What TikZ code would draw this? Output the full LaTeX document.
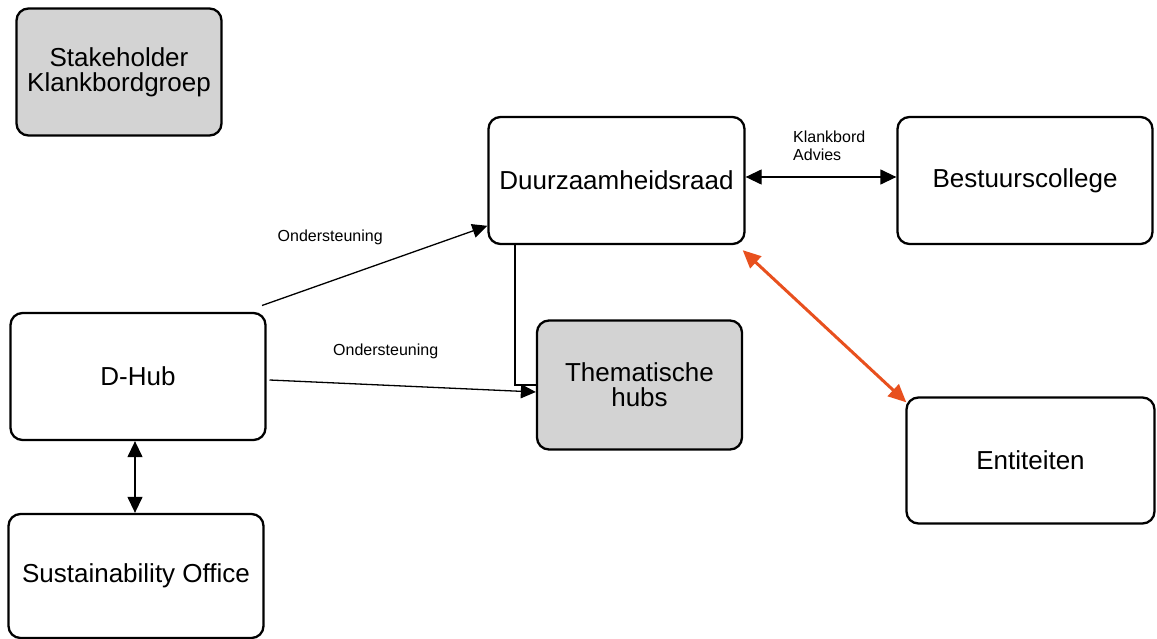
\documentclass[tikz,border=0pt]{standalone}
\usepackage{fontspec}
\setmainfont{Liberation Sans}
\usetikzlibrary{arrows.meta,calc}
\definecolor{boxgray}{HTML}{D3D3D3}
\definecolor{orangered}{HTML}{E8501E}
\begin{document}
\begin{tikzpicture}[x=1pt,y=-1pt,
  box/.style={draw=black, line width=2.3pt, rounded corners=12pt, fill=white,
    align=center, inner sep=0pt, font=\fontsize{26}{25}\selectfont},
  graybox/.style={box, fill=boxgray},
  conn/.style={line width=1.3pt},
  tipA/.style={-{Triangle[length=15pt,width=14pt]}},
  tipAA/.style={{Triangle[length=16pt,width=15pt]}-{Triangle[length=16pt,width=15pt]}},
  orangearrow/.style={draw=orangered, line width=3pt,
    {Triangle[length=18pt,width=16pt]}-{Triangle[length=18pt,width=16pt]}},
  lbl/.style={font=\fontsize{16}{18}\selectfont, inner sep=0pt, align=left}]
\useasboundingbox (0,0) rectangle (1157,639);

\node[graybox, minimum width=205pt, minimum height=127pt] (stake) at (119,72) {Stakeholder\\Klankbordgroep};
\node[box, minimum width=256pt, minimum height=127pt] (duurz) at (616.5,180.5) {Duurzaamheidsraad};
\node[box, minimum width=255pt, minimum height=127pt] (best) at (1025,180.5) {Bestuurscollege};
\node[box, minimum width=255pt, minimum height=127pt] (dhub) at (138,376.5) {D-Hub};
\node[graybox, minimum width=205pt, minimum height=129pt] (them) at (639.5,385) {Thematische\\hubs};
\node[box, minimum width=248pt, minimum height=126pt] (ent) at (1030.5,460.5) {Entiteiten};
\node[box, minimum width=255pt, minimum height=124pt] (sust) at (136,576) {Sustainability Office};

% connectors
\coordinate (s1) at (262,305.5);
\coordinate (s2) at (269.5,380);
\coordinate (t2) at ($(them.west)+(0,7)$);
\coordinate (e1) at ($(duurz.south west)+(28,0)$);
\coordinate (k1) at ($(duurz.east)+(0,-3.5)$);
\coordinate (k2) at ($(best.west)+(0,-3.5)$);

\draw[line width=2.2pt] (e1) |- (them.west);
\draw[conn, tipA] (s1) -- (duurz);
\draw[conn, tipA] (s2) -- (t2);
\draw[conn, tipAA] (k1) -- (k2);
\draw[conn, tipAA] (dhub.south -| 135,0) -- (sust.north -| 135,0);
\draw[orangearrow] (duurz.south east) ++(-3,5) coordinate (o1) -- ($(ent.north west)+(1,6)$) coordinate (o2);

% labels
\node[lbl, anchor=west] (l1) at (277.5,237) {Ondersteuning};
\node[lbl, anchor=west] (l2) at (333,351) {Ondersteuning};
\node[lbl, anchor=north west] (l3) at (793,131) {Klankbord\\Advies};
\end{tikzpicture}
\end{document}
